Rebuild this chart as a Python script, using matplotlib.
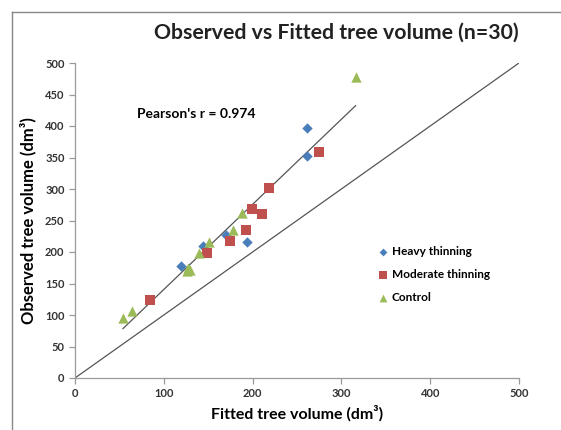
import matplotlib
matplotlib.use("Agg")
import matplotlib.pyplot as plt
from matplotlib.lines import Line2D
import numpy as np

plt.rcParams['font.family'] = ['Lato', 'DejaVu Sans']

# DATA (fitted, observed) in dm3
heavy_fitted = [261, 261, 170, 194, 144.5, 119]
heavy_observed = [397, 353, 227, 216, 209, 178]

moderate_fitted = [275, 219, 199.7, 211, 193, 175, 149, 84]
moderate_observed = [358, 301, 268, 261, 235, 217, 199, 124]

control_fitted = [316, 188, 177.5, 151, 140, 127.6, 126, 129.5, 64, 54.5]
control_observed = [478, 262, 235, 216, 198, 174, 170, 171, 107, 95]

# TREND LINE
trend_slope = 1.351
trend_intercept = 5.4
trend_start = 54
trend_end = 316

ticks = [0, 100, 200, 300, 400, 500]
yticks = [0, 50, 100, 150, 200, 250, 300, 350, 400, 450, 500]

fig = plt.figure(figsize=(5.61, 4.30), dpi=100)
ax = fig.add_axes([75 / 561, (430 - 378) / 430, 444 / 561, 315 / 430])

# 1:1 LINE AND TREND LINE
ax.plot([0, 500], [0, 500], color="#555555", linewidth=0.9, zorder=1)
tx = np.array([trend_start, trend_end])
ax.plot(tx, trend_slope * tx + trend_intercept, color="#555555", linewidth=0.9, zorder=1)

# THE POINTS
ax.scatter(heavy_fitted, heavy_observed, marker="D", s=28, color="#4a7ebb",
           label="Heavy thinning", zorder=3, linewidths=0)
ax.scatter(moderate_fitted, moderate_observed, marker="s", s=60, color="#c0504d",
           label="Moderate thinning", zorder=3, linewidths=0)
ax.scatter(control_fitted, control_observed, marker="^", s=55, color="#9bbb59",
           label="Control", zorder=3, linewidths=0)

ax.set_xlim(0, 500)
ax.set_ylim(0, 500)
ax.set_xticks(ticks)
ax.set_yticks(yticks)

for side in ["top", "right"]:
    ax.spines[side].set_visible(False)
for side in ["left", "bottom"]:
    ax.spines[side].set_color("#9a9a9a")
    ax.spines[side].set_linewidth(0.9)
ax.tick_params(colors="#9a9a9a", length=4, width=0.9, labelcolor="#333333", labelsize=8)
for lab in ax.get_xticklabels() + ax.get_yticklabels():
    lab.set_fontweight("bold")

ax.set_xlabel("Fitted tree volume (dm³)", fontsize=11.5, fontweight="bold", labelpad=4)
ax.set_ylabel("Observed tree volume (dm³)", fontsize=12, fontweight="bold", labelpad=6)

fig.text(336 / 561, 1 - 33 / 430, "Observed vs Fitted tree volume (n=30)", fontsize=15.3,
         fontweight="bold", ha="center", va="center", color="#222222")
ax.text(70, 419, "Pearson's r = 0.974", fontsize=10, fontweight="bold", ha="left", va="center")

leg = ax.legend(loc="upper left", bbox_to_anchor=(0.668, 0.435), frameon=False,
                fontsize=8.5, handletextpad=0.1, labelspacing=1.05, markerscale=0.75,
                handlelength=1.2, borderaxespad=0)
for t in leg.get_texts():
    t.set_fontweight("bold")

# FRAME LINES
fig.add_artist(Line2D([12 / 561, 1], [1 - 12 / 430, 1 - 12 / 430], color="#888888", linewidth=1))
fig.add_artist(Line2D([12 / 561, 12 / 561], [0, 1 - 12 / 430], color="#888888", linewidth=1))

fig.savefig("out.png", dpi=100)
